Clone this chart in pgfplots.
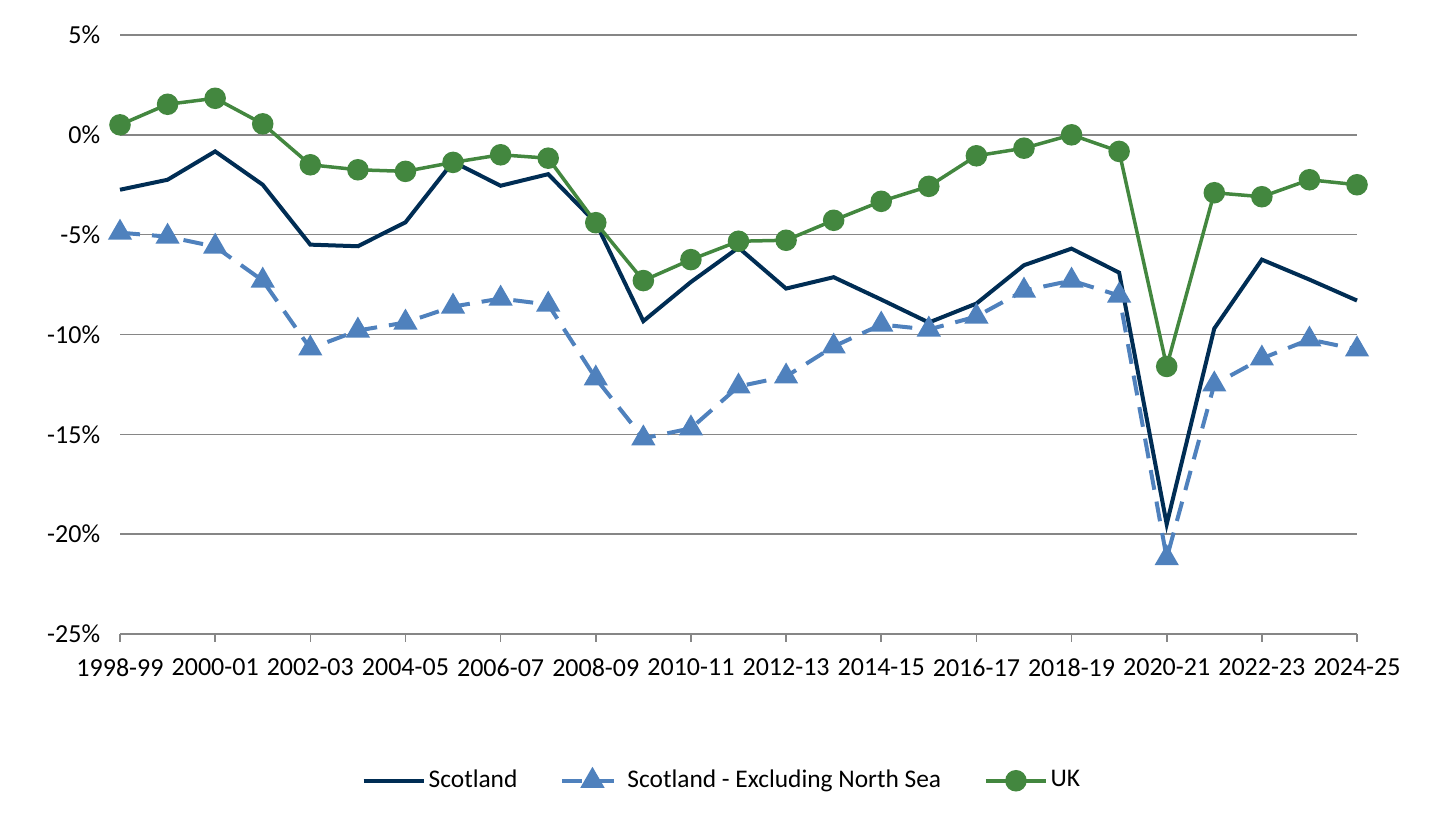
\documentclass[border=0pt]{standalone}
\usepackage{pgfplots}
\pgfplotsset{compat=1.18}
\usepackage{fontspec}
\setmainfont{Carlito}

\definecolor{scotnavy}{RGB}{0,45,84}
\definecolor{exnsblue}{RGB}{79,129,189}
\definecolor{ukgreen}{RGB}{67,135,63}
\definecolor{gridgray}{RGB}{134,134,134}

\begin{document}
\fontsize{12.7}{15}\selectfont
\begin{tikzpicture}
\path[use as bounding box] (-60pt,-92pt) rectangle (662pt,317pt);
\begin{axis}[
    at={(0,0)}, anchor=south west,
    width=618.5pt, height=299.5pt,
    scale only axis=true,
    xmin=0, xmax=26,
    ymin=-25, ymax=5,
    xtick={0,2,...,26},
    xticklabels={1998-99,2000-01,2002-03,2004-05,2006-07,2008-09,2010-11,2012-13,2014-15,2016-17,2018-19,2020-21,2022-23,2024-25},
    ytick={-25,-20,...,5},
    yticklabel={\pgfmathprintnumber{\tick}\%},
    /pgf/number format/assume math mode=true,
    ymajorgrids=true,
    grid style={gridgray, line width=0.8pt},
    axis line style={draw=none},
    tick align=outside,
    major tick length=4pt,
    xtick style={gridgray, line width=0.8pt},
    ytick style={draw=none},
    xtick pos=bottom,
    ytick pos=left,
    tick label style={font=\fontsize{13}{15}\selectfont},
    xticklabel style={yshift=-4pt},
    yticklabel style={xshift=-1.5pt},
    clip=false,
    legend style={at={(0.487,-0.245)}, anchor=center, draw=none,
        font=\fontsize{12.7}{15}\selectfont,
        nodes={inner sep=1.5pt},
        /tikz/every even column/.append style={column sep=20pt}},
    legend columns=3,
    legend cell align=left,
    legend image code/.code={\draw[mark repeat=2,mark phase=2,#1] plot coordinates {(0pt,0pt)(15pt,0pt)(30pt,0pt)};},
]
\draw[gridgray, line width=0.8pt] (axis cs:0,-25) -- (axis cs:26,-25);

\addplot[scotnavy, line width=2pt, no marks] coordinates {
(0,-2.75)(1,-2.25)(2,-0.83)(3,-2.5)(4,-5.5)(5,-5.58)(6,-4.38)(7,-1.35)(8,-2.55)(9,-1.97)
(10,-4.4)(11,-9.33)(12,-7.37)(13,-5.65)(14,-7.7)(15,-7.13)(16,-8.25)(17,-9.4)(18,-8.45)
(19,-6.53)(20,-5.7)(21,-6.9)(22,-19.5)(23,-9.7)(24,-6.25)(25,-7.25)(26,-8.3)
};
\addlegendentry{Scotland}

\addplot[exnsblue, line width=2pt, dash pattern=on 10pt off 6pt, mark=triangle*,
    mark size=5pt, mark options={solid}] coordinates {
(0,-4.9)(1,-5.1)(2,-5.6)(3,-7.3)(4,-10.7)(5,-9.8)(6,-9.4)(7,-8.6)(8,-8.2)(9,-8.5)
(10,-12.2)(11,-15.2)(12,-14.7)(13,-12.6)(14,-12.1)(15,-10.6)(16,-9.5)(17,-9.75)(18,-9.1)
(19,-7.8)(20,-7.3)(21,-8.05)(22,-21.2)(23,-12.5)(24,-11.2)(25,-10.25)(26,-10.75)
};
\addlegendentry{Scotland - Excluding North Sea}

\addplot[ukgreen, line width=1.75pt, mark=*, mark size=4.5pt] coordinates {
(0,0.5)(1,1.53)(2,1.83)(3,0.55)(4,-1.5)(5,-1.75)(6,-1.83)(7,-1.38)(8,-1.0)(9,-1.17)
(10,-4.4)(11,-7.3)(12,-6.25)(13,-5.33)(14,-5.28)(15,-4.28)(16,-3.33)(17,-2.58)(18,-1.05)
(19,-0.67)(20,0.0)(21,-0.83)(22,-11.6)(23,-2.9)(24,-3.1)(25,-2.25)(26,-2.5)
};
\addlegendentry{UK}
\end{axis}
\end{tikzpicture}
\end{document}
